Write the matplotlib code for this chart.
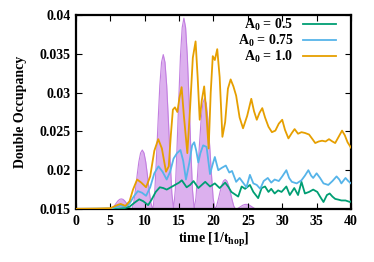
import matplotlib
matplotlib.use("Agg")
import matplotlib.pyplot as plt

# A0 = 1.0
t_a10 = [0, 3, 5, 6.0, 6.5, 7.2, 7.8, 8.3, 8.9, 9.5, 10.2, 10.8, 11.4, 11.97, 12.5, 13.1,
         13.5, 13.8, 14.1, 14.4, 14.75, 15.05, 15.37, 15.7, 16.2, 16.6, 17.0, 17.4, 17.7,
         18.0, 18.3, 18.65, 18.95, 19.3, 19.6, 19.9, 20.2, 20.55, 20.9, 21.3, 21.7, 22.1,
         22.5, 22.9, 23.3, 23.8, 24.3, 24.9, 25.5, 25.9, 26.3, 26.7, 27.1, 27.5, 28.0,
         28.5, 29.0, 29.5, 30.0, 30.4, 30.9, 31.4, 31.8, 32.3, 32.8, 33.3, 33.9, 34.4,
         34.8, 35.3, 35.8, 36.3, 36.8, 37.3, 37.7, 38.2, 38.7, 39.1, 39.5, 40]
d_a10 = [0.01502, 0.01505, 0.0151, 0.0155, 0.01565, 0.0154, 0.0160, 0.0175, 0.0188, 0.0184,
         0.0178, 0.0192, 0.0225, 0.0240, 0.0228, 0.0198, 0.0205, 0.0245, 0.0278, 0.0281,
         0.0275, 0.0293, 0.0307, 0.0270, 0.0222, 0.0280, 0.0345, 0.0366, 0.0320, 0.0265,
         0.0290, 0.0308, 0.0275, 0.0228, 0.0300, 0.0347, 0.0342, 0.0356, 0.0320, 0.0243,
         0.0262, 0.0305, 0.0317, 0.0308, 0.0296, 0.0268, 0.0254, 0.0270, 0.0292, 0.0276,
         0.0265, 0.0274, 0.0280, 0.0268, 0.0256, 0.0249, 0.0251, 0.0260, 0.0265, 0.0252,
         0.0241, 0.0248, 0.0253, 0.0247, 0.0249, 0.0248, 0.0246, 0.0240, 0.0235, 0.0237,
         0.0238, 0.0237, 0.0240, 0.0237, 0.0235, 0.0243, 0.0251, 0.0245, 0.0236, 0.0229]

# A0 = 0.75
t_a075 = [0, 5, 6.0, 6.5, 7.2, 7.8, 8.4, 9.0, 9.6, 10.2, 10.8, 11.4, 12.0, 12.6, 13.2, 13.7,
          14.2, 14.7, 15.2, 15.6, 16.0, 16.5, 16.9, 17.2, 17.5, 17.8, 18.1, 18.5, 19.0,
          19.5, 19.9, 20.2, 20.7, 21.2, 21.8, 22.3, 22.7, 23.3, 23.8, 24.3, 24.8, 25.3,
          25.8, 26.3, 26.8, 27.3, 27.9, 28.4, 28.9, 29.5, 30.0, 30.6, 31.0, 31.4, 32.1,
          32.8, 33.3, 33.8, 34.2, 34.5, 35.0, 35.5, 36.0, 36.7, 37.3, 37.9, 38.3, 38.6,
          39.2, 39.6, 40.0]
d_a075 = [0.0150, 0.01505, 0.0153, 0.01545, 0.0153, 0.0157, 0.0166, 0.0173, 0.0171, 0.0167,
          0.0178, 0.0196, 0.0205, 0.0198, 0.0188, 0.0198, 0.0215, 0.0222, 0.0226, 0.0212,
          0.0188, 0.0210, 0.0232, 0.0236, 0.0225, 0.0210, 0.0222, 0.0232, 0.0230, 0.0195,
          0.0208, 0.0217, 0.0200, 0.0203, 0.0206, 0.0197, 0.0199, 0.0185, 0.0190, 0.0184,
          0.0178, 0.0194, 0.0183, 0.0181, 0.0176, 0.0186, 0.0190, 0.0184, 0.0188, 0.0186,
          0.0192, 0.0200, 0.0190, 0.0185, 0.0183, 0.0187, 0.0193, 0.0200, 0.0193, 0.0190,
          0.0196, 0.0190, 0.0183, 0.0181, 0.0186, 0.0192, 0.0188, 0.0183, 0.0190, 0.0186,
          0.0183]

# A0 = 0.5
t_a05 = [0, 6, 7.0, 7.8, 8.5, 9.2, 9.8, 10.5, 11.0, 11.6, 12.2, 12.7, 13.2, 13.8, 14.4, 15.0,
         15.4, 16.1, 16.6, 17.1, 17.8, 18.3, 18.8, 19.5, 20.2, 20.9, 21.7, 22.2, 22.6, 23.1,
         23.6, 24.1, 24.6, 25.3, 25.8, 26.5, 27.0, 27.5, 28.0, 28.4, 28.9, 29.4, 29.9, 30.6,
         31.1, 31.75, 32.3, 32.8, 33.3, 33.9, 34.5, 35.1, 35.5, 36.0, 36.5, 36.9, 37.3, 37.7,
         38.2, 38.6, 39.2, 39.85, 40]
d_a05 = [0.0150, 0.01502, 0.0151, 0.0153, 0.0158, 0.01625, 0.0160, 0.0155, 0.0162, 0.0172,
         0.0178, 0.0177, 0.0175, 0.0178, 0.0181, 0.0184, 0.0187, 0.0178, 0.0181, 0.0186,
         0.0177, 0.0181, 0.0185, 0.0179, 0.0183, 0.0177, 0.0184, 0.0178, 0.0172, 0.0169,
         0.0166, 0.0179, 0.0176, 0.0181, 0.0172, 0.0164, 0.0177, 0.0179, 0.0172, 0.0176,
         0.0170, 0.0174, 0.0172, 0.0179, 0.0168, 0.0177, 0.0168, 0.0185, 0.0170, 0.0172,
         0.0175, 0.0172, 0.0166, 0.0159, 0.0168, 0.0170, 0.0166, 0.0163, 0.0162, 0.0161,
         0.0161, 0.0159, 0.0160]

# pulse shape (shaded)
t_pulse = [0, 5.1, 5.35, 5.6, 5.85, 6.1, 6.35, 6.6, 6.85, 7.1, 7.35, 7.6, 7.85, 8.1,
           8.15, 8.4, 8.65, 8.9, 9.15, 9.4, 9.65, 9.9, 10.15, 10.4, 10.65, 10.9, 11.15,
           11.2, 11.45, 11.7, 11.95, 12.2, 12.45, 12.7, 12.95, 13.2, 13.45, 13.7, 13.95, 14.2,
           14.45, 14.7, 14.95, 15.2, 15.45, 15.7, 15.95, 16.2, 16.45, 16.7, 16.95, 17.2,
           17.45, 17.7, 17.95, 18.2, 18.45, 18.7, 18.95, 19.2, 19.45, 19.7, 19.95, 20.2,
           20.45, 20.7, 20.95, 21.2, 21.45, 21.7, 21.95, 22.2, 22.45, 22.7, 22.95, 23.2,
           23.5, 23.75, 24.0, 24.25, 24.5, 24.75, 25.0, 25.25, 25.5, 25.75, 26.0, 26.25, 40]
d_pulse = [0.0150, 0.01500, 0.01513, 0.01542, 0.01574, 0.01604, 0.01624, 0.01630, 0.01624,
           0.01604, 0.01574, 0.01542, 0.01513, 0.01500,
           0.01500, 0.01576, 0.01743, 0.01933, 0.02108, 0.02222, 0.02260, 0.02222, 0.02108,
           0.01933, 0.01743, 0.01576, 0.01500,
           0.01500, 0.01699, 0.02137, 0.02634, 0.03092, 0.03391, 0.03490, 0.03391, 0.03092,
           0.02634, 0.02137, 0.01699, 0.01500,
           0.01746, 0.02287, 0.02902, 0.03468, 0.03837, 0.03960, 0.03837, 0.03468, 0.02902,
           0.02287, 0.01746, 0.01500,
           0.01643, 0.01958, 0.02315, 0.02644, 0.02859, 0.02930, 0.02859, 0.02644, 0.02315,
           0.01958, 0.01643, 0.01500,
           0.01538, 0.01622, 0.01717, 0.01804, 0.01861, 0.01880, 0.01861, 0.01804, 0.01717,
           0.01622, 0.01538, 0.01500,
           0.01506, 0.01519, 0.01534, 0.01548, 0.01557, 0.01560, 0.01557, 0.01548, 0.01534,
           0.01519, 0.01506, 0.01500, 0.0150]

x_ticks = [0, 5, 10, 15, 20, 25, 30, 35, 40]
y_ticks = [0.015, 0.02, 0.025, 0.03, 0.035, 0.04]
y_labels = ["0.015", "0.02", "0.025", "0.03", "0.035", "0.04"]

plt.rcParams['font.family'] = ['Liberation Serif', 'DejaVu Serif']
plt.rcParams['font.weight'] = 'bold'
plt.rcParams['mathtext.fontset'] = 'custom'
plt.rcParams['mathtext.rm'] = 'Liberation Serif:bold'
plt.rcParams['mathtext.bf'] = 'Liberation Serif:bold'

fs = 10
fig = plt.figure(figsize=(3.74, 2.62), dpi=100)
ax = fig.add_axes([0.203, 0.2023, 0.7355, 0.7404])

ax.fill_between(t_pulse, 0.015, d_pulse, color='#dcb0ee', lw=0, zorder=1)
ax.plot(t_pulse, d_pulse, color='#c27ee0', lw=0.8, zorder=1.5)

ax.plot(t_a05, d_a05, color='#009e73', lw=1.3, label=r'A$_\mathrm{0}$ = 0.5', zorder=3)
ax.plot(t_a075, d_a075, color='#56b4e9', lw=1.3, label=r'A$_\mathrm{0}$ = 0.75', zorder=3)
ax.plot(t_a10, d_a10, color='#e69f00', lw=1.3, label=r'A$_\mathrm{0}$ = 1.0', zorder=3)

ax.set_xlim(0, 40)
ax.set_ylim(0.015, 0.04)
ax.set_xticks(x_ticks)
ax.set_yticks(y_ticks)
ax.set_yticklabels(y_labels)
ax.tick_params(direction='in', top=True, right=True, length=4, width=0.8,
               labelsize=fs, pad=4)
for s in ax.spines.values():
    s.set_linewidth(1.6)

ax.set_xlabel(r'time [1/t$_\mathrm{hop}$]', fontsize=fs, fontweight='bold', labelpad=2)
ax.set_ylabel('Double Occupancy', fontsize=fs, fontweight='bold', labelpad=9)

ax.legend(loc='upper right', bbox_to_anchor=(0.945, 0.99), frameon=False,
          markerfirst=False, fontsize=fs, handlelength=2.4, labelspacing=-0.04,
          borderaxespad=0, handletextpad=0.65, borderpad=0)

fig.savefig('out.png', dpi=100)
